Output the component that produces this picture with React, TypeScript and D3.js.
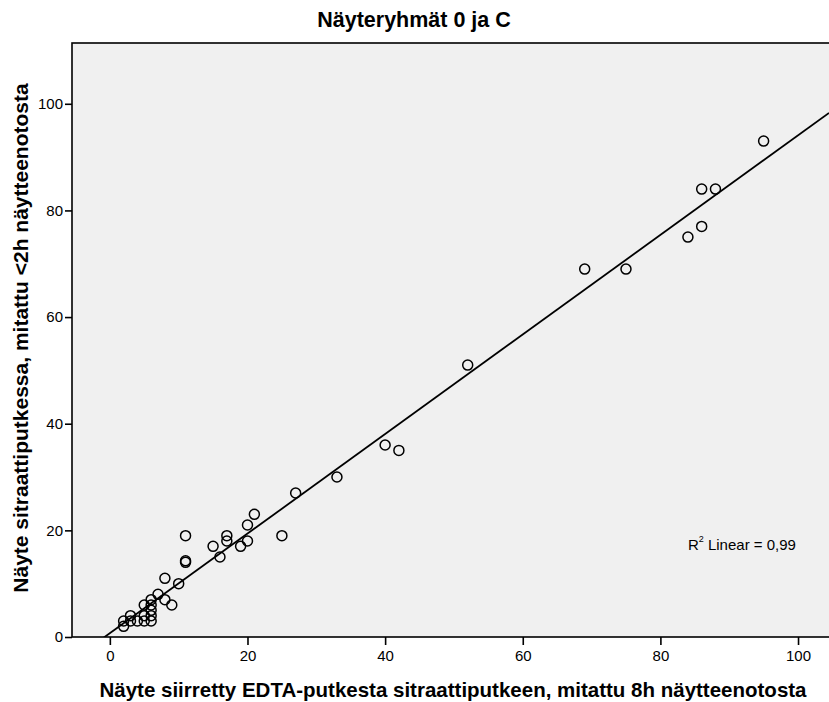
import React, { useEffect, useRef } from 'react';
import * as d3 from 'd3';

// 8h EDTA -> sitraatti (x) vs. <2h sitraatti (y)
const xValues = [95, 86, 88, 86, 84, 69, 75, 52, 40, 42, 33, 27, 25, 21, 20, 20, 17, 17, 15, 19, 16, 11, 11, 11, 8, 10, 7, 6, 5, 6, 8, 9, 6, 6, 5, 6, 5, 4, 3, 3, 2, 2];
const yValues = [93, 84, 84, 77, 75, 69, 69, 51, 36, 35, 30, 27, 19, 23, 21, 18, 19, 18, 17, 17, 15, 19, 14, 14.3, 11, 10, 8, 7, 6, 6, 7, 6, 5, 4, 4, 3, 3, 3, 4, 3, 3, 2];
const xTicks = [0, 20, 40, 60, 80, 100];
const yTicks = [0, 20, 40, 60, 80, 100];
const title = 'Näyteryhmät 0 ja C';
const xLabel = 'Näyte siirretty EDTA-putkesta sitraattiputkeen, mitattu 8h näytteenotosta';
const yLabel = 'Näyte sitraattiputkessa, mitattu <2h näytteenotosta';
const r2Label = 'Linear = 0,99';

const App = () => {
  const ref = useRef<SVGSVGElement>(null);
  const width = 829;
  const height = 702;
  const margin = { top: 43, right: 0, bottom: 65, left: 72 };

  useEffect(() => {
    const svg = d3.select(ref.current);
    svg.selectAll('*').remove();
    const font = 'Arial, "Liberation Sans", sans-serif';

    const x = d3.scaleLinear([-5.5, 104.5], [margin.left, width - margin.right]);
    const y = d3.scaleLinear([0, 111.4], [height - margin.bottom, margin.top]);

    // plot area
    svg.append('rect')
      .attr('x', margin.left).attr('y', margin.top)
      .attr('width', width - margin.left - margin.right + 2)
      .attr('height', height - margin.top - margin.bottom)
      .attr('fill', '#f0f0f0')
      .attr('stroke', '#000')
      .attr('stroke-width', 1.6);

    svg.append('clipPath').attr('id', 'plotClip')
      .append('rect')
      .attr('x', margin.left).attr('y', margin.top)
      .attr('width', width - margin.left - margin.right)
      .attr('height', height - margin.top - margin.bottom);

    // axes
    const xAxis = svg.append('g')
      .attr('transform', `translate(0,${height - margin.bottom})`)
      .call(d3.axisBottom(x).tickValues(xTicks).tickSize(8).tickPadding(5).tickSizeOuter(0));
    xAxis.select('.domain').remove();
    xAxis.selectAll('line').attr('stroke', '#000').attr('stroke-width', 1.6);
    xAxis.selectAll('text').attr('font-family', font).attr('font-size', 15).attr('fill', '#000');

    const yAxis = svg.append('g')
      .attr('transform', `translate(${margin.left},0)`)
      .call(d3.axisLeft(y).tickValues(yTicks).tickSize(7).tickPadding(2).tickSizeOuter(0));
    yAxis.select('.domain').remove();
    yAxis.selectAll('line').attr('stroke', '#000').attr('stroke-width', 1.6);
    yAxis.selectAll('text').attr('font-family', font).attr('font-size', 15).attr('fill', '#000');

    // least squares fit line
    const mx = d3.mean(xValues) as number;
    const my = d3.mean(yValues) as number;
    const sxy = d3.sum(xValues, (v, i) => (v - mx) * (yValues[i] - my));
    const sxx = d3.sum(xValues, v => (v - mx) ** 2);
    const slope = sxy / sxx;
    const intercept = my - slope * mx;
    const [x0, x1] = x.domain();
    const line = d3.line<number>().x(d => x(d)).y(d => y(intercept + slope * d));
    svg.append('path')
      .datum([x0, x1])
      .attr('clip-path', 'url(#plotClip)')
      .attr('d', line)
      .attr('fill', 'none')
      .attr('stroke', '#000')
      .attr('stroke-width', 1.8);

    // points
    svg.append('g')
      .attr('clip-path', 'url(#plotClip)')
      .selectAll('circle')
      .data(xValues)
      .join('circle')
      .attr('cx', d => x(d))
      .attr('cy', (d, i) => y(yValues[i]))
      .attr('r', 5)
      .attr('fill', 'none')
      .attr('stroke', '#000')
      .attr('stroke-width', 1.5);

    // R2 label
    const r2 = svg.append('text')
      .attr('x', x(84)).attr('y', y(17))
      .attr('font-family', font).attr('font-size', 15)
      .attr('dominant-baseline', 'middle');
    r2.append('tspan').text('R');
    r2.append('tspan').text('2').attr('font-size', 9).attr('dy', -6);
    r2.append('tspan').text(' ' + r2Label).attr('dy', 6);

    // titles
    svg.append('text')
      .attr('x', 414).attr('y', 27)
      .attr('text-anchor', 'middle')
      .attr('font-family', font).attr('font-weight', 'bold').attr('font-size', 21.5)
      .text(title);
    svg.append('text')
      .attr('x', 453).attr('y', 697)
      .attr('text-anchor', 'middle')
      .attr('font-family', font).attr('font-weight', 'bold').attr('font-size', 20.5)
      .text(xLabel);
    svg.append('text')
      .attr('transform', `translate(28,${338}) rotate(-90)`)
      .attr('text-anchor', 'middle')
      .attr('font-family', font).attr('font-weight', 'bold').attr('font-size', 21)
      .text(yLabel);
  }, []);

  return (
    <svg
      ref={ref}
      width={width}
      height={height}
      style={{ position: 'absolute', left: 0, top: 0, background: '#fff' }}
    />
  );
};

export default App;
